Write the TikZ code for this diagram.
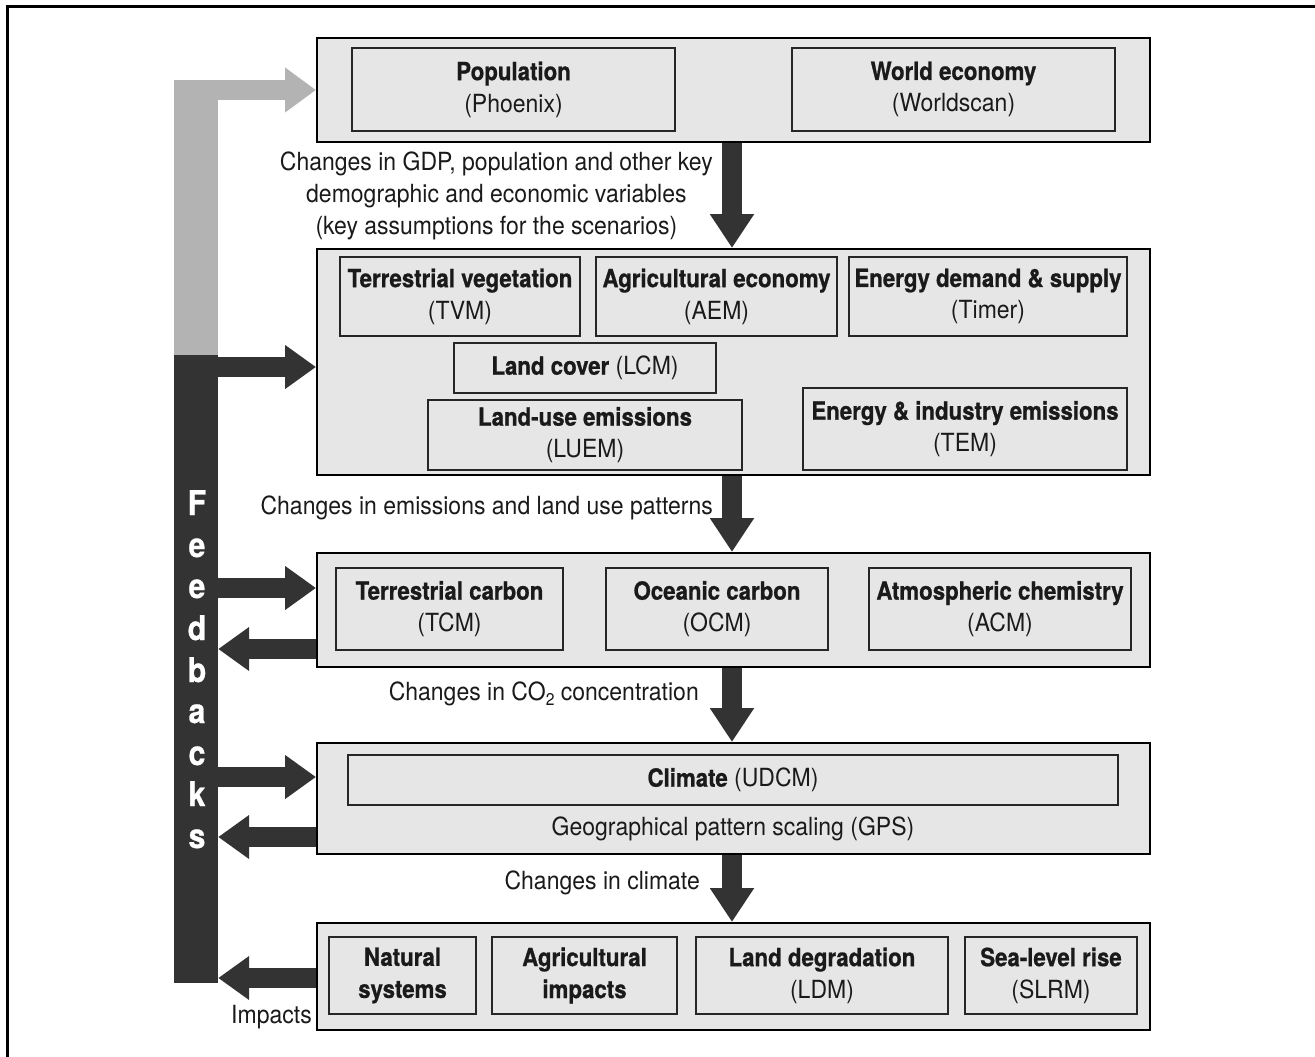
\documentclass[tikz,border=0pt]{standalone}
\usepackage{fontspec}
\setmainfont{TeX Gyre Heros}[FakeStretch=0.92, BoldFeatures={FakeStretch=0.89, FakeBold=0.8}]
\usetikzlibrary{arrows.meta}
\definecolor{boxgray}{HTML}{E6E6E6}
\definecolor{darkc}{HTML}{333333}
\definecolor{greyc}{HTML}{B3B3B3}
\definecolor{txt}{HTML}{1A1A1A}
\newcommand{\fs}{\fontsize{25}{32}\selectfont}
\begin{document}
\begin{tikzpicture}[x=1pt,y=-1pt,
  outerbox/.style={draw=black, line width=2pt, fill=boxgray, inner sep=0pt},
  innerbox/.style={draw=black!85, line width=2pt, fill=boxgray, inner sep=0pt, align=center, font=\fs, text=txt},
  lab/.style={font=\fs, text=txt, align=center, inner sep=0pt},
  fatdown/.style={draw=darkc, line width=20pt, -{Triangle[length=34pt,width=42pt]}},
  fatside/.style={draw=darkc, line width=20pt, -{Triangle[length=31pt,width=42pt]}},
  fatgrey/.style={draw=greyc, line width=20pt, -{Triangle[length=31pt,width=43pt]}},
  letter/.style={font=\fontsize{34}{34}\selectfont\bfseries, text=white, anchor=base, inner sep=0pt}
]
\useasboundingbox (0,0) rectangle (1315,1057);
\draw[line width=3pt] (7,1057) -- (7,7) -- (1315,7);

% main boxes
\node[outerbox, minimum width=833, minimum height=104] (B1) at (733.5,90) {};
\node[outerbox, minimum width=833, minimum height=226] (B2) at (733.5,362) {};
\node[outerbox, minimum width=833, minimum height=114] (B3) at (733.5,610) {};
\node[outerbox, minimum width=833, minimum height=111] (B4) at (733.5,798.5) {};
\node[outerbox, minimum width=833, minimum height=107] (B5) at (733.5,976.5) {};

% box 1
\node[innerbox, minimum width=323, minimum height=83] (pop) at (513.5,89.5) {\textbf{Population}\\(Phoenix)};
\node[innerbox, minimum width=323, minimum height=83] (we) at (953.5,89.5) {\textbf{World economy}\\(Worldscan)};

% box 2
\node[innerbox, minimum width=240, minimum height=79] (tvm) at (460,296.5) {\textbf{Terrestrial vegetation}\\(TVM)};
\node[innerbox, minimum width=241, minimum height=79] (aem) at (716.5,296.5) {\textbf{Agricultural economy}\\(AEM)};
\node[innerbox, minimum width=278, minimum height=79] (timer) at (988,296.5) {\textbf{Energy demand \& supply}\\(Timer)};
\node[innerbox, minimum width=262, minimum height=50] (lcm) at (585,368) {\textbf{Land cover} (LCM)};
\node[innerbox, minimum width=314, minimum height=70] (luem) at (585,435) {\textbf{Land-use emissions}\\(LUEM)};
\node[innerbox, minimum width=324, minimum height=82] (tem) at (965,429) {\textbf{Energy \& industry emissions}\\(TEM)};

% box 3
\node[innerbox, minimum width=227, minimum height=82] (tcm) at (449.5,609) {\textbf{Terrestrial carbon}\\(TCM)};
\node[innerbox, minimum width=222, minimum height=82] (ocm) at (717,609) {\textbf{Oceanic carbon}\\(OCM)};
\node[innerbox, minimum width=262, minimum height=82] (acm) at (1000,609) {\textbf{Atmospheric chemistry}\\(ACM)};

% box 4
\node[innerbox, minimum width=770, minimum height=50] (udcm) at (733,780) {\textbf{Climate} (UDCM)};
\node[lab] (gps) at (733,829) {Geographical pattern scaling (GPS)};

% box 5
\node[innerbox, minimum width=147, minimum height=77] (nat) at (402.5,975.5) {\textbf{Natural}\\\textbf{systems}};
\node[innerbox, minimum width=185, minimum height=77] (agi) at (584.5,975.5) {\textbf{Agricultural}\\\textbf{impacts}};
\node[innerbox, minimum width=252, minimum height=77] (ldm) at (822,975.5) {\textbf{Land degradation}\\(LDM)};
\node[innerbox, minimum width=172, minimum height=77] (slrm) at (1051,975.5) {\textbf{Sea-level rise}\\(SLRM)};

% labels
\node[lab, anchor=east] (l1) at (713,196) {Changes in GDP, population and other key\\demographic and economic variables\\(key assumptions for the scenarios)};
\node[lab, anchor=east] (l2) at (713,508) {Changes in emissions and land use patterns};
\node[lab, anchor=east] (l3) at (699,694) {Changes in CO\raisebox{-0.35ex}{\fontsize{17}{17}\selectfont 2} concentration};
\node[lab, anchor=east] (l4) at (700,883) {Changes in climate};
\node[lab, anchor=east] (imp) at (312,1017) {Impacts};

% down arrows
\coordinate (ax) at (732,0);
\draw[fatdown] (B1.south -| ax) -- (B2.north -| ax);
\draw[fatdown] (B2.south -| ax) -- (B3.north -| ax);
\draw[fatdown] (B3.south -| ax) -- (B4.north -| ax);
\draw[fatdown] (B4.south -| ax) -- (B5.north -| ax);

% feedback bars
\node[fill=greyc, minimum width=44, minimum height=275, inner sep=0pt] (gbar) at (196,217.5) {};
\node[fill=darkc, minimum width=44, minimum height=628, inner sep=0pt] (dbar) at (196,669) {};
\draw[fatgrey] (gbar.north west |- B1.west) -- (B1.west);

\coordinate (r1) at (0,367);
\coordinate (r2) at (0,588);
\coordinate (r3) at (0,777);
\coordinate (s1) at (0,649);
\coordinate (s2) at (0,837);
\coordinate (s3) at (0,978);
\draw[fatside] (dbar.east |- r1) -- (B2.west |- r1);
\draw[fatside] (dbar.east |- r2) -- (B3.west |- r2);
\draw[fatside] (dbar.east |- r3) -- (B4.west |- r3);
\draw[fatside] (B3.west |- s1) -- (dbar.east |- s1);
\draw[fatside] (B4.west |- s2) -- (dbar.east |- s2);
\draw[fatside] (B5.west |- s3) -- (dbar.east |- s3);

% Feedbacks letters
\foreach \ch/\yy [count=\i] in {F/515, e/557, e/598, d/640, b/682, a/723, c/765, k/806, s/848}
  \node[letter] (fb\i) at (197,\yy) {\ch};
\end{tikzpicture}
\end{document}
